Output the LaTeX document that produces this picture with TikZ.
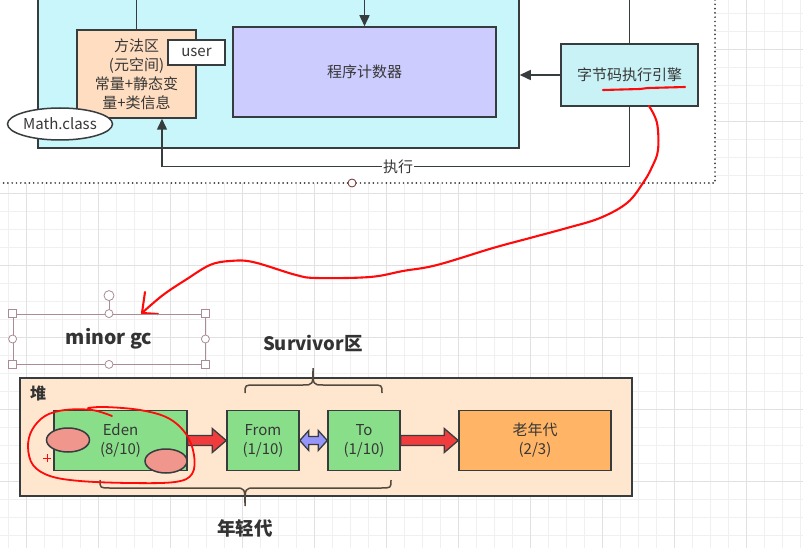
\documentclass[tikz,border=0pt]{standalone}
\usepackage{fontspec}
\newfontfamily\cjk{Noto Sans CJK SC}
\usetikzlibrary{arrows.meta,calc,shapes.geometric}
\definecolor{bd}{RGB}{55,60,62}
\definecolor{txt}{RGB}{55,55,55}
\definecolor{cyanbg}{RGB}{200,246,250}
\definecolor{cyaneng}{RGB}{200,242,246}
\definecolor{lav}{RGB}{204,204,255}
\definecolor{peach}{RGB}{255,221,192}
\definecolor{heapbg}{RGB}{255,230,206}
\definecolor{grn}{RGB}{137,222,137}
\definecolor{orng}{RGB}{255,180,102}
\definecolor{pinkish}{RGB}{241,150,140}
\definecolor{redarr}{RGB}{240,60,60}
\definecolor{lavarr}{RGB}{150,150,250}
\definecolor{pen}{RGB}{255,10,10}
\definecolor{gridmin}{RGB}{240,240,240}
\definecolor{gridmaj}{RGB}{225,225,225}
\definecolor{sel}{RGB}{170,140,150}
\newcommand\blkarrow[3]{%
  \path[#1] ($(#2)+(0,-5)$) -- ($(#3)+(-14,-5)$) -- ($(#3)+(-14,-12)$) -- (#3)
    -- ($(#3)+(-14,12)$) -- ($(#3)+(-14,5)$) -- ($(#2)+(0,5)$) -- cycle;}
\begin{document}
\begin{tikzpicture}[x=1pt,y=-1pt,
  every node/.style={font=\cjk, text=txt},
  nbox/.style={draw=bd, line width=1.5pt, rectangle, align=center, inner sep=0pt},
  arr/.style={draw=bd, line width=1.5pt, -{Triangle[length=11pt,width=10pt]}},
  ln/.style={draw=bd, line width=1.5pt},
  brc/.style={draw=bd!80!brown, line width=1.5pt},
  redpen/.style={draw=pen, line width=2.1pt, line cap=round, line join=round},
  selbox/.style={draw=sel, line width=0.8pt},
  handle/.style={draw=sel, fill=white, line width=0.8pt},
  f15/.style={font={\cjk\fontsize{15}{19}\selectfont}},
  bold/.style={font={\cjk\bfseries\fontsize{18.5}{20}\selectfont}, text=black!80}]
\useasboundingbox (0,0) rectangle (803,548);
\clip (0,0) rectangle (803,548);
% grid
\foreach \i in {0,...,45} {\draw[gridmin, line width=0.7pt] (8+18*\i,0) -- (8+18*\i,548);}
\foreach \i in {0,...,31} {\draw[gridmin, line width=0.7pt] (0,13+18*\i) -- (803,13+18*\i);}
\foreach \i in {0,...,11} {\draw[gridmaj, line width=0.8pt] (26+72*\i,0) -- (26+72*\i,548);}
\foreach \i in {0,...,7} {\draw[gridmaj, line width=0.8pt] (0,49+72*\i) -- (803,49+72*\i);}
% dotted frame
\fill[white] (-5,-5) rectangle (715,183);
\draw[bd, line width=1.9pt, dash pattern=on 0pt off 4.3pt, line cap=round] (-5,183) -- (715,183) -- (715,-5);
\node[circle, draw=bd!70!red, fill=white, line width=0.8pt, minimum size=8pt, inner sep=0pt] (hdl) at (352,183) {};
% upper part
\node[nbox, fill=cyanbg, minimum width=481pt, minimum height=158pt] (bigbox) at (278.5,69) {};
\node[nbox, fill=peach, minimum width=119pt, minimum height=88pt, f15] (method) at (136.5,74)
  {方法区\\(元空间)\\常量+静态变\\量+类信息};
\node[nbox, fill=white, line width=2pt, minimum width=57pt, minimum height=25pt, f15] (user) at (196.5,52.5) {user};
\node[ellipse, draw=bd, line width=1.5pt, fill=white, minimum width=105pt, minimum height=32pt, inner sep=0pt, f15] (mathc) at (60,124) {Math.class};
\node[nbox, fill=lav, minimum width=263pt, minimum height=90pt, f15] (pc) at (364.5,72) {程序计数器};
\node[nbox, fill=cyaneng, minimum width=137pt, minimum height=62pt, f15] (engine) at (629.5,75) {字节码执行引擎};
\coordinate (topmid) at (364.5,-5);
\draw[arr] (topmid) -- (pc.north);
\draw[ln] (method.north) -- (method.north |- topmid);
\draw[ln] (engine.north) -- (engine.north |- topmid);
\draw[arr] (engine.west) -- (engine.west -| bigbox.east);
\coordinate (mtarget) at ([xshift=25.5pt]method.south);
\draw[arr] (engine.south) -- ++(0,60) coordinate (ecorner) -| (mtarget);
\node[fill=white, inner sep=1pt, f15] (exec) at (398,167) {执行};
% red annotation
\draw[redpen] (603,90) -- (640,89) -- (648,88) -- (685,87);
\draw[redpen] plot[smooth, tension=0.6] coordinates {(649,106) (657,123) (658,150) (652,167) (643,183) (627,203) (600,218) (567,228) (530,238) (493,248) (437,265) (403,271) (370,277) (317,278) (296,275) (253,262) (230,261) (210,265) (187,279) (163,295) (142,313)};
\draw[redpen] (145,292) -- (142,313) -- (158,314);
% selection box
\node[selbox, rectangle, minimum width=192pt, minimum height=50pt, inner sep=0pt,
  font={\cjk\bfseries\fontsize{19.5}{20}\selectfont}, text=black!80] (minor) at (109,339) {minor gc};
\draw[selbox] (minor.north) -- ++(0,-17) coordinate (rot);
\node[circle, handle, minimum size=10pt, inner sep=0pt] (roth) at ($(rot)+(0,-1)$) {};
\foreach \a in {north west, north east, south west, south east}
  {\node[rectangle, handle, minimum size=8pt, inner sep=0pt] at (minor.\a) {};}
\foreach \a in {north, south, west, east}
  {\node[circle, handle, minimum size=8pt, inner sep=0pt] at (minor.\a) {};}
% heap
\node[bold] (surv) at (313,343) {Survivor区};
\node[nbox, fill=heapbg, minimum width=612pt, minimum height=118pt] (heap) at (326,437) {};
\node[anchor=center, font={\cjk\bfseries\fontsize{16}{18}\selectfont}, text=black!80] (dui) at (38,393) {堆};
\node[nbox, fill=grn, minimum width=133pt, minimum height=60pt, f15] (eden) at (120.5,440.5) {Eden\\(8/10)};
\node[nbox, fill=grn, minimum width=72pt, minimum height=60pt, f15] (from) at (263,440.5) {From\\(1/10)};
\node[nbox, fill=grn, minimum width=72pt, minimum height=60pt, f15] (to) at (364,440.5) {To\\(1/10)};
\node[nbox, fill=orng, minimum width=152pt, minimum height=60pt, f15] (old) at (535,440.5) {老年代\\(2/3)};
\blkarrow{draw=bd, fill=redarr, line width=1.3pt, line join=miter}{eden.east}{from.west}
\blkarrow{draw=bd, fill=redarr, line width=1.3pt, line join=miter}{to.east}{old.west}
\path[draw=bd, fill=lavarr, line width=1.3pt]
  (from.east) -- ($(from.east)+(9,-10)$) -- ($(from.east)+(9,-4)$) -- ($(to.west)+(-9,-4)$)
  -- ($(to.west)+(-9,-10)$) -- (to.west) -- ($(to.west)+(-9,10)$) -- ($(to.west)+(-9,4)$)
  -- ($(from.east)+(9,4)$) -- ($(from.east)+(9,10)$) -- cycle;
\node[ellipse, draw=bd, line width=1.5pt, fill=pinkish, minimum width=43pt, minimum height=24pt, inner sep=0pt] (e1) at (68,440) {};
\node[ellipse, draw=bd, line width=1.5pt, fill=pinkish, minimum width=42pt, minimum height=24pt, inner sep=0pt] (e2) at (166,461) {};
% braces
\draw[brc] (245,393) .. controls (245,385) .. (255,385) -- (303,385) .. controls (313,385) .. (313,368)
  .. controls (313,385) .. (323,385) -- (372,385) .. controls (382,385) .. (382,393);
\draw[brc] (100,480) .. controls (100,488) .. (110,488) -- (235,488) .. controls (245,488) .. (245,506)
  .. controls (245,488) .. (255,488) -- (381,488) .. controls (391,488) .. (391,480);
\node[bold] (young) at (245,528) {年轻代};
% red loop around Eden
\draw[redpen, line width=1.8pt] plot[smooth, tension=0.6] coordinates {(112,416) (92,410) (65,410) (45,416) (32,430) (28,447) (33,465) (50,476) (80,481) (130,483) (175,482) (192,474) (194,455) (186,434) (168,418) (140,410) (105,407) (88,408)};
\draw[pen, line width=1pt] (43,458) -- (51,458) (47,454) -- (47,462);
\end{tikzpicture}
\end{document}
